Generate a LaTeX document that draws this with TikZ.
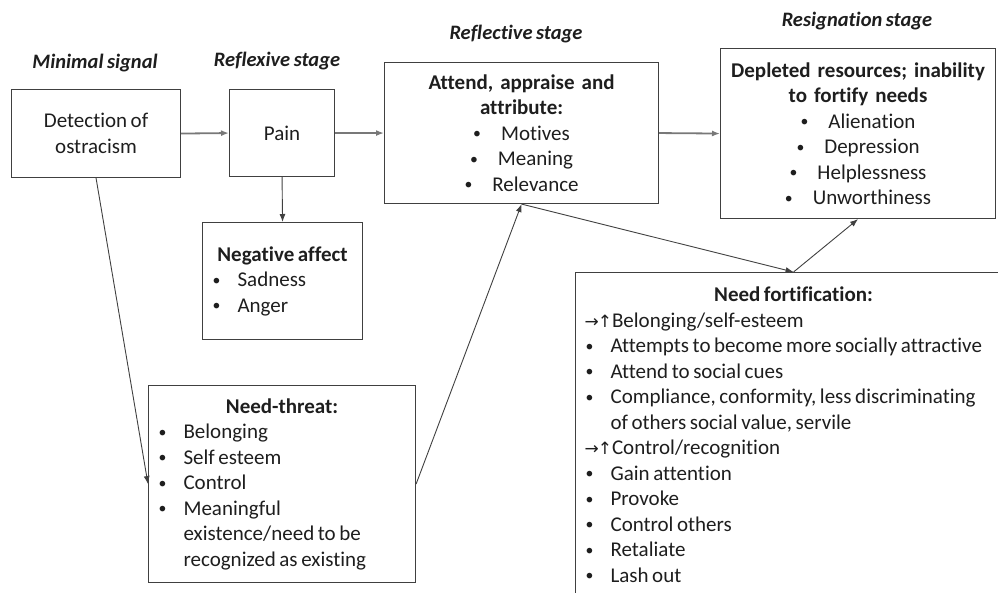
\documentclass[tikz,border=0pt]{standalone}
\usepackage{fontspec}
\usepackage{graphicx}
\setmainfont{Carlito}[Ligatures=NoCommon]
\newfontfamily\arrowfont{DejaVu Sans}
\usetikzlibrary{arrows.meta}
\definecolor{boxline}{RGB}{64,64,64}
\definecolor{arrowline}{RGB}{120,120,120}
\definecolor{textcol}{RGB}{30,30,30}
\newcommand{\tightspace}{\spaceskip=0.17em plus 0.05em minus 0.03em\relax}
\newcommand{\boxfont}{\fontsize{21}{25.5}\selectfont\tightspace}
\newcommand{\stagefont}{\fontsize{20.5}{25.5}\selectfont\bfseries\itshape\tightspace}
\tikzstyle{block} = [rectangle, draw=boxline, line width=1.1pt, anchor=north west, inner xsep=9pt, inner ysep=0pt, text=textcol, font=\boxfont]
\tikzstyle{listblock} = [block, execute at begin node={\raggedright\tightspace}]
\tikzstyle{stage} = [text=textcol, font=\stagefont]
\tikzstyle{arrow} = [draw=boxline, line width=0.9pt, -{Latex[length=8pt,width=6pt]}]
\tikzstyle{mainarrow} = [arrow, draw=arrowline, line width=1.8pt]

\newcommand{\dotmark}{\raisebox{1.5pt}{\scalebox{0.75}{\textbullet}}}
\newcommand{\itm}[1]{\par\hangindent=26pt\hangafter=1\noindent\makebox[26pt][l]{\hspace{1pt}\dotmark}#1}
\newcommand{\citm}[1]{\dotmark\hspace{20pt}#1}
\newcommand{\uparr}{{\arrowfont\fontsize{17}{25.5}\selectfont →\kern-1pt↑}}

\begin{document}
\begin{tikzpicture}[x=1pt, y=-1pt]
\useasboundingbox (0,0) rectangle (998,593);
\clip (0,0) rectangle (998,593);

% stage titles
\node[stage] (minlabel) at (95,63) {Minimal signal};
\node[stage] (reflexlabel) at (277,61) {Reflexive stage};
\node[stage] (refllabel) at (516,34) {Reflective stage};
\node[stage] (resiglabel) at (857,21) {Resignation stage};

% boxes
\node (detect) [block, minimum width=169pt, minimum height=88pt, align=center] at (11,89) {Detection of\\ostracism};
\node (pain) [block, minimum width=105pt, minimum height=87pt, align=center] at (229,89) {Pain};
\node (reflect) [block, minimum width=274pt, minimum height=141pt, text width=256pt, align=center] at (384,62)
  {\textbf{Attend, appraise and}\\\textbf{attribute:}\\\citm{Motives}\\\citm{Meaning}\\\citm{Relevance}};
\node (resign) [block, minimum width=275pt, minimum height=170pt, text width=257pt, align=center] at (720,48)
  {\textbf{Depleted resources; inability}\\\textbf{to fortify needs}\\\citm{Alienation}\\\citm{Depression}\\\citm{Helplessness}\\\citm{Unworthiness}};
\node (negaffect) [listblock, minimum width=160pt, minimum height=117pt, text width=142pt] at (202,222)
  {{\centering\textbf{Negative affect}\par}
   \itm{Sadness}\itm{Anger}\par};
\node (threat) [listblock, minimum width=267pt, minimum height=197pt, text width=249pt] at (148,385)
  {{\centering\textbf{Need-threat:}\par}
   \itm{Belonging}\itm{Self esteem}\itm{Control}
   \itm{Meaningful\newline existence/need to be\newline recognized as existing}\par};
\node (fortify) [listblock, minimum width=436pt, minimum height=324pt, text width=418pt] at (575,272)
  {{\centering\textbf{Need fortification:}\par}
   \noindent\uparr Belonging/self-esteem
   \itm{Attempts to become more socially attractive}
   \itm{Attend to social cues}
   \itm{Compliance, conformity, less discriminating\newline of others social value, servile}
   \par\noindent\uparr Control/recognition
   \itm{Gain attention}\itm{Provoke}\itm{Control others}\itm{Retaliate}\itm{Lash out}\par};

% connectors
\draw [mainarrow] (detect.east) -- (pain.west);
\draw [mainarrow] (pain.east) -- (reflect.west);
\draw [mainarrow] (reflect.east) -- (resign.west);
\draw [arrow] (pain.south) -- (negaffect.north);
\draw [arrow] (detect.south) -- (threat.west);
\draw [arrow] (threat.east) -- (reflect.south);
\draw [arrow] (reflect.south) -- (fortify.north);
\draw [arrow] (fortify.north) -- (resign.south);

\end{tikzpicture}
\end{document}
